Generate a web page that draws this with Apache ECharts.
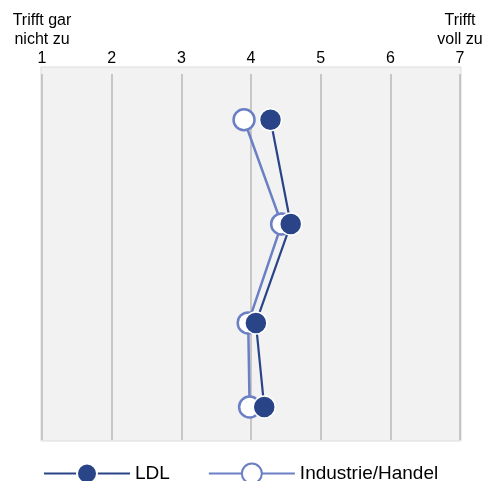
<!DOCTYPE html>
<html>
<head>
<meta charset="utf-8">
<script src="https://cdn.jsdelivr.net/npm/echarts@6/dist/echarts.min.js"></script>
<style>
  html, body { margin: 0; padding: 0; background: #fff; }
  #chart { width: 487px; height: 481px; }
</style>
</head>
<body>
<div id="chart"></div>
<script>
// Skala 1..7, Beschriftung oben
var tickLabels = ['Trifft gar\nnicht zu\n1', '2', '3', '4', '5', '6', 'Trifft\nvoll zu\n7'];
// Position der vier Aussagen (0 = oben, 100 = unten)
var rowPos = [12.5, 41, 68, 91];
var ldl = [4.28, 4.57, 4.07, 4.19];
var industrie = [3.9, 4.44, 3.96, 3.98];

var chart = echarts.init(document.getElementById('chart'), null, {renderer: 'canvas'});

function pairs(vals) {
    return vals.map(function (v, i) { return [v, rowPos[i]]; });
}

chart.setOption({
    animation: false,
    textStyle: {fontFamily: 'Liberation Sans, Arial, sans-serif'},
    graphic: [{
        type: 'rect',
        z: -10,
        shape: {x: 41, y: 67, width: 420, height: 374},
        style: {fill: '#f2f2f2', stroke: '#dcdcdc', lineWidth: 1}
    }],
    grid: {left: 42, right: 27, top: 74, bottom: 41},
    xAxis: {
        type: 'value',
        position: 'top',
        min: 1,
        max: 7,
        interval: 1,
        axisLine: {show: false},
        axisTick: {show: false},
        axisLabel: {
            color: '#000',
            fontSize: 16,
            lineHeight: 19,
            margin: 6,
            formatter: function (v) { return tickLabels[v - 1]; }
        },
        splitLine: {lineStyle: {color: '#b8b8b8', width: 1.5}}
    },
    yAxis: {
        type: 'value',
        inverse: true,
        min: 0,
        max: 100,
        show: false,
        splitLine: {show: false}
    },
    legend: {
        data: ['LDL', 'Industrie/Handel'],
        left: 38,
        bottom: -8.5,
        itemWidth: 86,
        itemHeight: 25,
        itemGap: 38,
        textStyle: {color: '#000', fontSize: 19}
    },
    series: [{
        name: 'Industrie/Handel',
        type: 'line',
        data: pairs(industrie),
        symbol: 'circle',
        symbolSize: 21,
        lineStyle: {color: '#6b7fc4', width: 2.5},
        itemStyle: {color: '#fff', borderColor: '#6b7fc4', borderWidth: 2.5}
    }, {
        name: 'LDL',
        type: 'line',
        data: pairs(ldl),
        symbol: 'circle',
        symbolSize: 22,
        lineStyle: {color: '#2a4488', width: 2.2},
        itemStyle: {color: '#2a4488', borderColor: '#fff', borderWidth: 1.5}
    }]
});
</script>
</body>
</html>
